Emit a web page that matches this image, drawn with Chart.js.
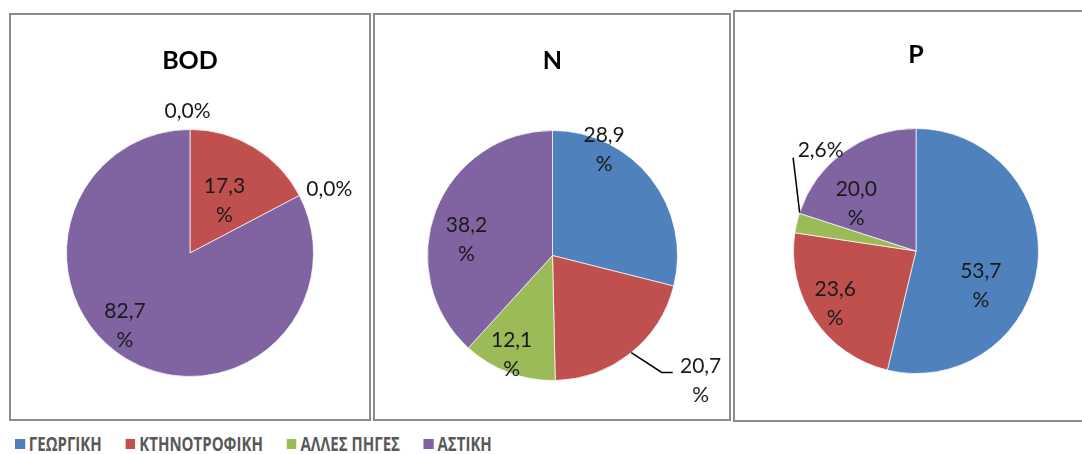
<!DOCTYPE html>
<html>
<head>
<meta charset="utf-8">
<script src="https://cdn.jsdelivr.net/npm/chart.js@4.4.1/dist/chart.umd.min.js"></script>
<style>
  body { margin: 0; background: #fff; width: 1082px; height: 454px; overflow: hidden; position: relative; }
  .box { position: absolute; border: 2px solid #8c8c8c; background: #fff; }
  .box canvas { position: absolute; left: 0; top: 0; }
  #legend { position: absolute; left: 15px; top: 431px; display: flex; align-items: center;
            font-family: "Open Sans", sans-serif; font-weight: bold;
            font-size: 19px; color: #595959; white-space: nowrap;
            transform: scaleX(0.79); transform-origin: 0 0; }
  #legend .item { display: flex; align-items: center; margin-right: 30px; }
  #legend .sq { width: 12.5px; height: 10px; margin-right: 5px; }
</style>
</head>
<body>
<div class="box" style="left:9px; top:13px; width:358px; height:404px;"><canvas id="bodChart" width="358" height="404"></canvas></div>
<div class="box" style="left:373px; top:13px; width:354px; height:404px;"><canvas id="nChart" width="354" height="404"></canvas></div>
<div class="box" style="left:733px; top:10px; width:360px; height:408px;"><canvas id="pChart" width="347" height="408"></canvas></div>
<div id="legend"></div>

<script>
// --- data ---
const categories = ['ΓΕΩΡΓΙΚΗ', 'ΚΤΗΝΟΤΡΟΦΙΚΗ', 'ΑΛΛΕΣ ΠΗΓΕΣ', 'ΑΣΤΙΚΗ'];
const bodValues = [0.0, 17.3, 0.0, 82.7];
const nValues = [28.9, 20.7, 12.1, 38.2];
const pValues = [53.7, 23.6, 2.6, 20.0];

const sliceColors = ['#4f81bd', '#c0504d', '#9bbb59', '#8064a2'];

function fmt(v) {
    return v.toFixed(1).replace('.', ',');
}

// data labels, placed relative to each slice's middle angle
const sliceLabels = {
    id: 'sliceLabels',
    afterDatasetsDraw(chart, args, opts) {
        const ctx = chart.ctx;
        const meta = chart.getDatasetMeta(0);
        const vals = chart.data.datasets[0].data;
        ctx.save();
        ctx.font = '21px Lato, "Open Sans", sans-serif';
        ctx.fillStyle = '#1a1a1a';
        ctx.strokeStyle = '#000';
        ctx.lineWidth = 1.5;
        ctx.textAlign = 'center';
        ctx.textBaseline = 'middle';
        meta.data.forEach((arc, i) => {
            const spec = opts.place[i];
            const p = arc.getProps(['x', 'y', 'startAngle', 'endAngle', 'outerRadius'], true);
            const mid = (p.startAngle + p.endAngle) / 2;
            const pt = (f, d) => {
                const a = mid + d * Math.PI / 180;
                return [p.x + Math.cos(a) * p.outerRadius * f, p.y + Math.sin(a) * p.outerRadius * f];
            };
            if (spec.lead) {
                ctx.beginPath();
                spec.lead.forEach(([f, d], k) => {
                    const [lx, ly] = pt(f, d);
                    if (k === 0) ctx.moveTo(lx, ly); else ctx.lineTo(lx, ly);
                    if (k === spec.lead.length - 1 && spec.hx) ctx.lineTo(lx + spec.hx, ly);
                });
                ctx.stroke();
            }
            const txt = fmt(vals[i]);
            const lines = spec.wrap ? [txt, '%'] : [txt + '%'];
            const [cx, cy] = pt(spec.f, spec.d);
            lines.forEach((t, k) => {
                ctx.fillText(t, cx, cy + (k - (lines.length - 1) / 2) * 29);
            });
        });
        ctx.restore();
    }
};

function makePie(id, title, values, pad, titlePad, place) {
    return new Chart(document.getElementById(id), {
        type: 'pie',
        data: {
            labels: categories,
            datasets: [{
                data: values,
                backgroundColor: sliceColors,
                borderColor: 'rgba(255,255,255,0.7)',
                borderWidth: 1
            }]
        },
        options: {
            responsive: false,
            animation: false,
            events: [],
            layout: { padding: pad },
            plugins: {
                legend: { display: false },
                tooltip: { enabled: false },
                title: {
                    display: true,
                    text: title,
                    color: '#000',
                    font: { family: 'Lato, "Open Sans", sans-serif', size: 25, weight: 'bold', lineHeight: 1.2 },
                    padding: titlePad
                },
                sliceLabels: { place: place }
            }
        },
        plugins: [sliceLabels]
    });
}

makePie('bodChart', 'BOD', bodValues,
    { left: 55, right: 55, top: 0, bottom: 42 }, { top: 31, bottom: 53 },
    [
        { f: 1.15, d: -1 },
        { f: 0.51, d: 2, wrap: true },
        { f: 1.24, d: 3.2 },
        { f: 0.79, d: 10.7, wrap: true }
    ]);

makePie('nChart', 'N', nValues,
    { left: 52, right: 51, top: 0, bottom: 38 }, { top: 31, bottom: 54 },
    [
        { f: 0.94, d: -26, wrap: true },
        { f: 1.55, d: -11.3, wrap: true, lead: [[1.0, -0.5], [1.28, -4.5]], hx: 11 },
        { f: 0.86, d: 1.8, wrap: true },
        { f: 0.70, d: -10.8, wrap: true }
    ]);

makePie('pChart', 'P', pValues,
    { left: 58, right: 43, top: 0, bottom: 46 }, { top: 28, bottom: 58 },
    [
        { f: 0.60, d: 21.4, wrap: true },
        { f: 0.79, d: 0.6, wrap: true },
        { f: 1.13, d: 33.2, lead: [[1.0, 5], [1.26, 24]] },
        { f: 0.62, d: -15.8, wrap: true }
    ]);

// legend
const legendEl = document.getElementById('legend');
categories.forEach((c, i) => {
    const item = document.createElement('div');
    item.className = 'item';
    item.innerHTML = '<span class="sq" style="background:' + sliceColors[i] + '"></span><span>' + c + '</span>';
    legendEl.appendChild(item);
});
</script>
</body>
</html>
